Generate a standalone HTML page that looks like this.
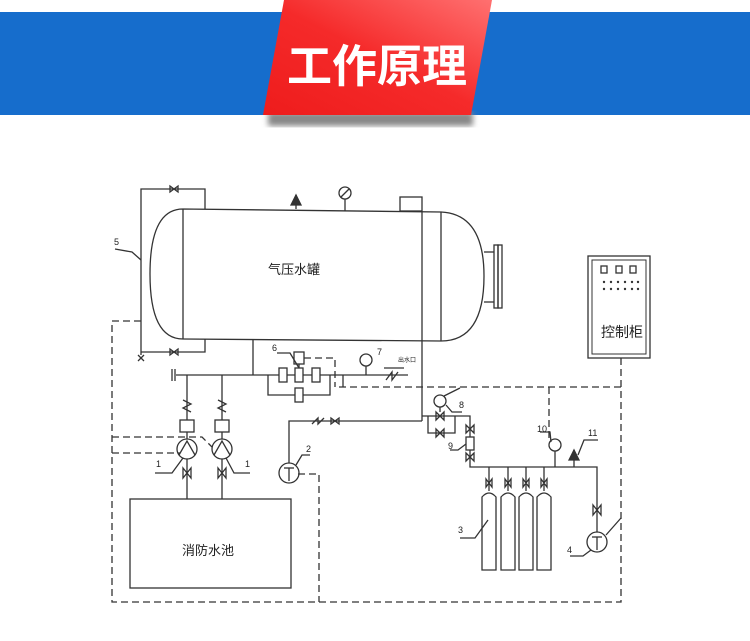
<!DOCTYPE html>
<html><head><meta charset="utf-8"><style>
html,body{margin:0;padding:0;background:#fff;width:750px;height:641px;overflow:hidden}
svg{display:block}
text{font-family:"Liberation Sans","Noto Sans CJK SC",sans-serif}
</style></head><body>
<svg width="750" height="641" viewBox="0 0 750 641" xmlns="http://www.w3.org/2000/svg">
<defs>
<linearGradient id="rg" x1="0" y1="1" x2="1" y2="0">
<stop offset="0" stop-color="#ee1c1c"/><stop offset="0.5" stop-color="#f52a2a"/><stop offset="1" stop-color="#ff7070"/></linearGradient>
<filter id="bl"><feGaussianBlur stdDeviation="3"/></filter>
</defs>
<rect x="0" y="12" width="750" height="103" fill="#166dcc"/>
<rect x="268" y="112" width="205" height="14" fill="#888" filter="url(#bl)"/>
<polygon points="284,0 492,0 471,115 263,115" fill="url(#rg)"/>
<text x="377" y="82" font-size="45" font-weight="bold" fill="#fff" text-anchor="middle" font-family="Noto Sans CJK SC,sans-serif">工作原理</text>

<g fill="none" stroke="#333" stroke-width="1.3">
<!-- tank -->
<path d="M183,209 L441,212 Q484,214 484,276 Q484,341 441,341 L183,339 Q150,339 150,274 Q150,209 183,209 Z"/>
<line x1="183" y1="209" x2="183" y2="339"/><line x1="441" y1="212" x2="441" y2="341"/>
<rect x="400" y="197" width="22" height="14"/>
<line x1="422" y1="211" x2="422" y2="421"/>
<line x1="484" y1="252" x2="494" y2="252"/><line x1="484" y1="302" x2="494" y2="302"/>
<rect x="494" y="245" width="4" height="63"/><rect x="498" y="245" width="4" height="63"/>
<!-- left pipe -->
<polyline points="205,209 205,189 141,189 141,355"/>
<polyline points="205,339 205,352 141,352"/>
<path d="M170,186 L178,192 L178,186 L170,192Z M170,349 L178,355 L178,349 L170,355Z"/>
<path d="M138,355 L144,361 M144,355 L138,361"/>
<path d="M115,249 L132,252 L141,260"/>
<!-- top fittings -->
<line x1="296" y1="209" x2="296" y2="195"/>
<path d="M291,205 L296,195 L301,205Z" fill="#333"/>
<line x1="345" y1="199" x2="345" y2="211"/><circle cx="345" cy="193" r="6"/>
<line x1="341" y1="197" x2="349" y2="189"/>
<!-- under tank -->
<line x1="253" y1="339" x2="253" y2="375"/>
<line x1="176" y1="375" x2="408" y2="375"/>
<line x1="172" y1="369" x2="172" y2="381"/><line x1="175" y1="369" x2="175" y2="381"/>
<rect x="279" y="368" width="8" height="14" fill="#fff"/><rect x="295" y="368" width="8" height="14" fill="#fff"/><rect x="312" y="368" width="8" height="14" fill="#fff"/>
<polyline points="268,375 268,395 330,395 330,375"/>
<rect x="295" y="388" width="8" height="14" fill="#fff"/>
<rect x="294" y="352" width="10" height="12"/>
<line x1="299" y1="364" x2="299" y2="368"/>
<path d="M277,353 L290,353 L299,368"/>
<circle cx="366" cy="360" r="6"/><line x1="366" y1="366" x2="366" y2="375"/>
<path d="M386,380 L392,372 L392,380 L398,372"/>
<line x1="384" y1="368" x2="404" y2="368"/>
<line x1="343" y1="375" x2="343" y2="387"/>
<!-- pumps -->
<line x1="187" y1="375" x2="187" y2="499"/><line x1="222" y1="375" x2="222" y2="499"/>
<path d="M183,400 L191,404 L183,408 L191,412 M218,400 L226,404 L218,408 L226,412"/>
<rect x="180" y="420" width="14" height="12" fill="#fff"/><rect x="215" y="420" width="14" height="12" fill="#fff"/>
<circle cx="187" cy="449" r="10" fill="#fff"/><circle cx="222" cy="449" r="10" fill="#fff"/>
<path d="M179,455 L187,441 L195,455 M214,455 L222,441 L230,455"/>
<path d="M183,468 L191,478 L191,468 L183,478Z M218,468 L226,478 L226,468 L218,478Z"/>
<path d="M155,473 L172,473 L183,458 M250,473 L234,473 L226,458"/>
<rect x="130" y="499" width="161" height="89"/>
<!-- pump 2 line -->
<polyline points="289,463 289,421 422,421"/>
<path d="M312,424 L318,418 L318,424 L324,418 M331,418 L339,424 L339,418 L331,424Z"/>
<circle cx="289" cy="473" r="10" fill="#fff"/>
<line x1="284" y1="468" x2="294" y2="468"/><line x1="289" y1="468" x2="289" y2="481"/>
<path d="M296,465 L302,455 L310,455"/>
<!-- valve 8 group -->
<polyline points="422,416 470,416 470,467 597,467 597,532"/>
<polyline points="428,416 428,433 455,433 455,416"/>
<path d="M436,412 L444,420 L444,412 L436,420Z M436,429 L444,437 L444,429 L436,437Z"/>
<line x1="440" y1="407" x2="440" y2="412"/><circle cx="440" cy="401" r="6" fill="#fff"/>
<path d="M444,396 L460,388 M446,405 L452,412 L462,412"/>
<path d="M466,425 L474,433 L474,425 L466,433Z M466,453 L474,461 L474,453 L466,461Z"/>
<rect x="466" y="437" width="8" height="13" fill="#fff"/>
<path d="M450,450 L458,450 L466,444"/>
<line x1="555" y1="451" x2="555" y2="467"/><circle cx="555" cy="445" r="6" fill="#fff"/>
<path d="M540,432 L550,432 L551,442"/>
<line x1="574" y1="450" x2="574" y2="467"/><path d="M569,460 L574,450 L579,460Z" fill="#333"/>
<path d="M578,455 L584,440 L598,440"/>
<!-- cylinders -->
<line x1="489" y1="467" x2="489" y2="491"/><line x1="508" y1="467" x2="508" y2="491"/><line x1="526" y1="467" x2="526" y2="491"/><line x1="544" y1="467" x2="544" y2="491"/>
<path d="M486,479 L492,487 L492,479 L486,487Z M505,479 L511,487 L511,479 L505,487Z M523,479 L529,487 L529,479 L523,487Z M541,479 L547,487 L547,479 L541,487Z"/>
<path d="M482,570 L482,497 Q489,489 496,497 L496,570Z"/>
<path d="M501,570 L501,497 Q508,489 515,497 L515,570Z"/>
<path d="M519,570 L519,497 Q526,489 533,497 L533,570Z"/>
<path d="M537,570 L537,497 Q544,489 551,497 L551,570Z"/>
<path d="M460,538 L475,538 L488,520"/>
<path d="M593,505 L601,515 L601,505 L593,515Z"/>
<circle cx="597" cy="542" r="10" fill="#fff"/><line x1="592" y1="537" x2="602" y2="537"/><line x1="597" y1="537" x2="597" y2="550"/>
<path d="M570,556 L583,556 L591,550 M606,535 L621,518"/>
<!-- cabinet -->
<rect x="588" y="256" width="62" height="102"/><rect x="592" y="260" width="54" height="94" stroke-width="1"/>
<rect x="601" y="266" width="6" height="7"/><rect x="616" y="266" width="6" height="7"/><rect x="630" y="266" width="6" height="7"/>
</g>
<g fill="#333">
<circle cx="604" cy="282" r="1.2"/><circle cx="611" cy="282" r="1.2"/><circle cx="618" cy="282" r="1.2"/><circle cx="625" cy="282" r="1.2"/><circle cx="632" cy="282" r="1.2"/><circle cx="638" cy="282" r="1.2"/>
<circle cx="604" cy="289" r="1.2"/><circle cx="611" cy="289" r="1.2"/><circle cx="618" cy="289" r="1.2"/><circle cx="625" cy="289" r="1.2"/><circle cx="632" cy="289" r="1.2"/><circle cx="638" cy="289" r="1.2"/>
</g>
<g fill="none" stroke="#333" stroke-width="1.3" stroke-dasharray="7,4">
<polyline points="141,321 112,321 112,602 621,602 621,358"/>
<line x1="339" y1="387" x2="621" y2="387"/>
<line x1="549" y1="387" x2="549" y2="440"/>
<polyline points="304,358 335,358 335,387"/>
<polyline points="112,437 202,437 212,447"/>
<line x1="112" y1="453" x2="180" y2="453"/>
<polyline points="298,474 319,474 319,602"/>
</g>
<g fill="#222" font-size="9">
<text x="114" y="245">5</text><text x="272" y="351">6</text><text x="377" y="355">7</text>
<text x="398" y="362" font-size="6">出水口</text>
<text x="459" y="408">8</text><text x="448" y="449">9</text><text x="537" y="432">10</text><text x="588" y="436">11</text>
<text x="156" y="467">1</text><text x="245" y="467">1</text><text x="306" y="452">2</text>
<text x="458" y="533">3</text><text x="567" y="553">4</text>
<text x="268" y="274" font-size="13">气压水罐</text>
<text x="182" y="555" font-size="13">消防水池</text>
<text x="601" y="337" font-size="14">控制柜</text>
</g>
</svg>
</body></html>
